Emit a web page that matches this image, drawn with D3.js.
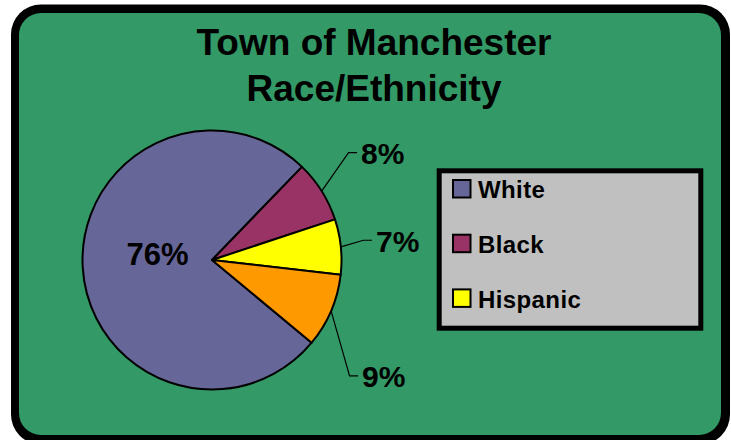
<!DOCTYPE html>
<html>
<head>
<meta charset="utf-8">
<script src="https://cdn.jsdelivr.net/npm/d3@7"></script>
<style>
  html, body { margin: 0; padding: 0; background: #ffffff; }
  svg { display: block; }
  text { font-family: "Liberation Sans", Arial, sans-serif; font-weight: bold; fill: #000; }
</style>
</head>
<body>
<div id="chart"></div>
<script>
// ---- data ----
const titleLines = ["Town of Manchester", "Race/Ethnicity"];
const categories = ["White", "Black", "Hispanic", "Other"];
const shares = [0.762, 0.077, 0.069, 0.092];
const colors = ["#666699", "#993366", "#FFFF00", "#FF9900"];
const legendCount = 3; // the legend box only shows the first three entries

// ---- layout ----
const W = 731, H = 440;
const cx = 212, cy = 260, R = 129.5;
const startDeg = 129.7;
// label anchors (left edge / centre for inside, baseline) in polar terms relative to pie centre
const labelPolar = [
  { deg: 264.8, r: 54.7, inside: true },
  { deg: 57.4, r: 178.1 },
  { deg: 87.1, r: 165.2 },
  { deg: 130.1, r: 197.5 }
];

const svg = d3.select("#chart").append("svg").attr("width", W).attr("height", H);

// frame
svg.append("rect").attr("x", 11).attr("y", 4.5).attr("width", 719).attr("height", 440)
  .attr("rx", 30).attr("fill", "#000");
svg.append("rect").attr("x", 19).attr("y", 13).attr("width", 702).attr("height", 422)
  .attr("rx", 22).attr("fill", "#339966");

// title
svg.append("g").selectAll("text").data(titleLines).join("text")
  .attr("x", 374).attr("y", (d, i) => 55 + i * 46)
  .attr("text-anchor", "middle").style("font-size", "37px").text(d => d);

// pie
const data = categories.map((c, i) => ({ name: c, value: shares[i], color: colors[i] }));
const a0 = startDeg * Math.PI / 180;
const pie = d3.pie().value(d => d.value).sort(null).startAngle(a0).endAngle(a0 + 2 * Math.PI);
const arcs = pie(data);
const arc = d3.arc().innerRadius(0).outerRadius(R);

const g = svg.append("g").attr("transform", `translate(${cx},${cy})`);
g.selectAll("path").data(arcs).join("path")
  .attr("d", arc).attr("fill", d => d.data.color)
  .attr("stroke", "#000").attr("stroke-width", 2).attr("stroke-linejoin", "round");

const fmt = d3.format(".0%");
const polar = (deg, r) => [r * Math.sin(deg * Math.PI / 180), -r * Math.cos(deg * Math.PI / 180)];

arcs.forEach((a, i) => {
  const lp = labelPolar[i];
  const [lx, ly] = polar(lp.deg, lp.r);
  if (lp.inside) {
    g.append("text").attr("x", lx).attr("y", ly).attr("text-anchor", "middle")
      .style("font-size", "31px").text(fmt(a.data.value));
    return;
  }
  const mid = (a.startAngle + a.endAngle) / 2;
  const p0 = [R * Math.sin(mid), -R * Math.cos(mid)];
  const yLine = ly - 11.4;
  const xEnd = lx - 5;
  const xElbow = xEnd - 8.5;
  g.append("polyline")
    .attr("points", [p0, [xElbow, yLine], [xEnd, yLine]].map(p => p.join(",")).join(" "))
    .attr("fill", "none").attr("stroke", "#000").attr("stroke-width", 1.2);
  g.append("text").attr("x", lx - 1).attr("y", ly)
    .style("font-size", "30px").text(fmt(a.data.value));
});

// legend
const lg = svg.append("g");
lg.append("rect").attr("x", 439.2).attr("y", 170.8).attr("width", 261.6).attr("height", 157.4)
  .attr("fill", "#C0C0C0").attr("stroke", "#000").attr("stroke-width", 5);
const items = lg.selectAll("g.item").data(data.slice(0, legendCount)).join("g")
  .attr("class", "item").attr("transform", (d, i) => `translate(0,${i * 54.7})`);
items.append("rect").attr("x", 453).attr("y", 180).attr("width", 17.5).attr("height", 17.5)
  .attr("fill", d => d.color).attr("stroke", "#000").attr("stroke-width", 2);
items.append("text").attr("x", 478).attr("y", 198.3)
  .style("font-size", "24px").style("letter-spacing", "0.4px").text(d => d.name);
</script>
</body>
</html>
